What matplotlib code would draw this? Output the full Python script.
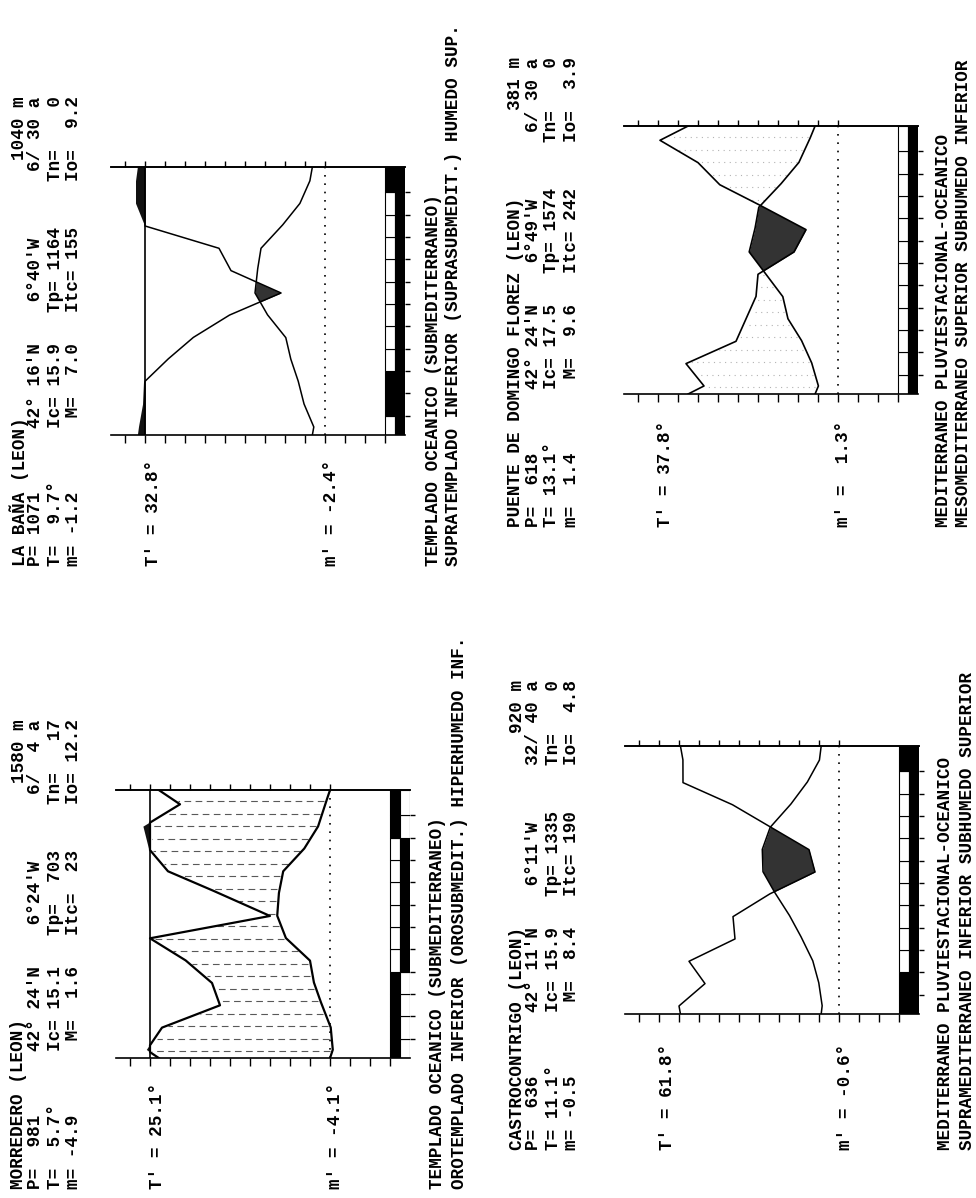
import numpy as np
import matplotlib.pyplot as plt

# monthly means, Jan..Dec (T in degC, P in mm)
bana_t = [2.8, 5.2, 6.6, 8.5, 9.8, 14.3, 17.5, 16.9, 16.0, 10.8, 6.3, 3.8]
bana_p = [120, 100, 95, 79, 66, 48, 22, 47, 53, 90, 135, 135]
bana_sure = [0, 1, 1, 0, 0, 0, 0, 0, 0, 0, 0, 1]
bana_prob = [1, 1, 1, 1, 1, 1, 1, 1, 1, 1, 1, 1]

morr_t = [-0.7, -0.2, 2.0, 4.0, 5.0, 11.0, 13.2, 12.8, 11.7, 6.5, 3.0, 1.2]
morr_p = [106, 84, 55, 59, 72, 90, 30, 55, 81, 95, 123, 75]
morr_sure = [1, 1, 1, 1, 0, 0, 0, 0, 0, 0, 1, 1]
morr_prob = [0, 0, 0, 0, 1, 1, 1, 1, 1, 1, 0, 0]

puen_t = [4.9, 6.5, 9.0, 12.5, 13.8, 18.0, 22.2, 20.8, 19.8, 14.5, 9.8, 7.2]
puen_p = [67, 76, 51, 46, 41, 40, 22, 16, 37, 59, 70, 89]
puen_sure = [0, 0, 0, 0, 0, 0, 0, 0, 0, 0, 0, 0]
puen_prob = [1, 1, 1, 1, 1, 1, 1, 1, 1, 1, 1, 1]

cast_t = [4.2, 5.0, 6.5, 9.2, 12.2, 15.8, 19.0, 19.2, 17.2, 12.2, 8.0, 4.9]
cast_p = [80, 67, 75, 52, 53, 35, 12, 15, 34, 53, 78, 78]
cast_sure = [1, 1, 0, 0, 0, 0, 0, 0, 0, 0, 0, 1]
cast_prob = [1, 1, 1, 1, 1, 1, 1, 1, 1, 1, 1, 1]

bana_head = [["LA BAÑA (LEON)", "", "", "1040 m"],
             ["P= 1071", "42° 16'N", " 6°40'W", "6/ 30 a"],
             ["T=  9.7°", "Ic= 15.9", "Tp= 1164", "Tn=    0"],
             ["m= -1.2", " M=  7.0", "Itc= 155", "Io=  9.2"]]
morr_head = [["MORREDERO (LEON)", "", "", "1580 m"],
             ["P=  981", "42° 24'N", " 6°24'W", "6/  4 a"],
             ["T=  5.7°", "Ic= 15.1", "Tp=  703", "Tn=   17"],
             ["m= -4.9", " M=  1.6", "Itc=  23", "Io= 12.2"]]
puen_head = [["PUENTE DE DOMINGO FLOREZ (LEON)", "", "", "381 m"],
             ["P=  618", "42° 24'N", " 6°49'W", "6/ 30 a"],
             ["T= 13.1°", "Ic= 17.5", "Tp= 1574", "Tn=    0"],
             ["m=  1.4", " M=  9.6", "Itc= 242", "Io=  3.9"]]
cast_head = [["CASTROCONTRIGO (LEON)", "", "", "920 m"],
             ["P=  636", "42° 11'N", " 6°11'W", "32/ 40 a"],
             ["T= 11.1°", "Ic= 15.9", "Tp= 1335", "Tn=    0"],
             ["m= -0.5", " M=  8.4", "Itc= 190", "Io=  4.8"]]

bana_ext = ["T' = 32.8°", "m' = -2.4°"]
morr_ext = ["T' = 25.1°", "m' = -4.1°"]
puen_ext = ["T' = 37.8°", "m' =  1.3°"]
cast_ext = ["T' = 61.8°", "m' = -0.6°"]

bana_cls = ["TEMPLADO OCEANICO (SUBMEDITERRANEO)",
            "SUPRATEMPLADO INFERIOR (SUPRASUBMEDIT.) HUMEDO SUP."]
morr_cls = ["TEMPLADO OCEANICO (SUBMEDITERRANEO)",
            "OROTEMPLADO INFERIOR (OROSUBMEDIT.) HIPERHUMEDO INF."]
puen_cls = ["MEDITERRANEO PLUVIESTACIONAL-OCEANICO",
            "MESOMEDITERRANEO SUPERIOR SUBHUMEDO INFERIOR"]
cast_cls = ["MEDITERRANEO PLUVIESTACIONAL-OCEANICO",
            "SUPRAMEDITERRANEO INFERIOR SUBHUMEDO SUPERIOR"]

CAP = 90  # mm, precipitation above this is drawn black at 1/10 scale
W, H = 976, 1198
PITCH = 10.58
FS = 12.7

fig = plt.figure(figsize=(W / 100, H / 100), dpi=100)
page = fig.add_axes([0, 0, 1, 1])
page.set_xlim(0, W)
page.set_ylim(H, 0)
page.axis('off')

mid = np.arange(12) + 0.36
yk = np.r_[0, mid, 12]
edges = np.r_[0, np.arange(1, 12) - 0.14, 12]
yy = np.linspace(0, 12, 1201)


def closed(v):
    v = np.asarray(v, float)
    end = v[-1] + (v[0] - v[-1]) * (12 - mid[-1])
    return np.r_[end, v, end]


def write(x, y, s, top=False):
    page.text(x, y, s, rotation=90, ha='center', va='top' if top else 'bottom',
              family='Liberation Mono', weight='bold', size=FS)


def diagram(t, p, sure, prob, head, ext, cls, zero_x, top_y, tx, ty, cls_x, lw, hatch):
    ax = fig.add_axes([(zero_x - 214) / W, 1 - (top_y + 268) / H, 294 / W, 268 / H])
    ax.patch.set_visible(False)
    ax.set_xlim(53.5, -20)
    ax.set_ylim(0, 12)

    p = np.asarray(p, float)
    pd = np.where(p > CAP, CAP + (p - CAP) / 10, p) / 2
    tk, pk = closed(t), closed(pd)
    tf, pf = np.interp(yy, yk, tk), np.interp(yy, yk, pk)
    cap = CAP / 2

    # humid period: broken horizontal strokes between the curves
    if hatch:
        color, dash = hatch
        yh = np.arange(0.3, 12, 0.56)
        th = np.interp(yh, yk, tk)
        ph = np.minimum(np.interp(yh, yk, pk), cap)
        wet = ph > th + 0.8
        ax.hlines(yh[wet], th[wet] + 0.6, ph[wet] - 0.6, colors=color,
                  linestyles=dash, lw=0.8)

    ax.fill_betweenx(yy, tf, pf, where=tf > pf, color='#333333', lw=0)
    if (pf > cap).any():
        ax.fill_betweenx(yy, cap, pf, where=pf > cap, color='#111111', lw=0)
        ax.axvline(cap, color='k', lw=1.2)
    ax.plot(tf, yy, color='k', lw=lw)
    ax.plot(np.minimum(pf, cap), yy, color='k', lw=lw)
    ax.axvline(0, color='k', lw=1.2, ls=(0, (1, 4)))

    # frost bar
    h = np.diff(edges)
    ax.barh(edges[:-1], 2.5, height=h, left=-17.5, align='edge',
            color=['k' if s else 'w' for s in sure], edgecolor='k', lw=0.8)
    ax.barh(edges[:-1], 2.5, height=h, left=-20, align='edge',
            color=['k' if s else 'w' for s in prob], edgecolor='k', lw=0.8)
    ax.hlines(edges[1:-1], -20, -21.3, color='k', lw=1, clip_on=False)

    for s in ['left', 'right']:
        ax.spines[s].set_visible(False)
    ax.spines['bottom'].set_linewidth(1.2)
    ax.spines['top'].set_linewidth(1.2)
    ax.set_yticks([])
    ax.set_xticks(np.arange(-15, 51, 5))
    ax.tick_params(axis='x', length=6, width=1, labelbottom=False)
    sec = ax.secondary_xaxis('top')
    sec.set_xticks(np.arange(0, 51, 5))
    sec.tick_params(length=4, width=1, labeltop=False)
    sec.spines['top'].set_linewidth(1.2)

    # header block
    for i, row in enumerate(head):
        x = tx + [0, 17, 36, 55][i]
        write(x, ty, row[0])
        if row[1]:
            write(x, ty - 13 * PITCH, row[1])
        if row[2]:
            write(x, ty - 24 * PITCH, row[2])
        write(x, ty - 44.4 * PITCH, row[3], top=True)
    write(zero_x - 172, ty, ext[0])
    write(zero_x + 6, ty, ext[1])
    write(cls_x[0], ty, cls[0])
    write(cls_x[1], ty, cls[1])


diagram(bana_t, bana_p, bana_sure, bana_prob, bana_head, bana_ext, bana_cls,
        325, 167, 19, 566, (433, 453), 1.1, None)
diagram(morr_t, morr_p, morr_sure, morr_prob, morr_head, morr_ext, morr_cls,
        330, 790, 19, 1189, (437, 459), 1.6, ('0.35', (0, (6, 4))))
diagram(puen_t, puen_p, puen_sure, puen_prob, puen_head, puen_ext, puen_cls,
        838, 126, 516, 527, (944, 964), 1.2, ('0.7', (0, (1, 4))))
diagram(cast_t, cast_p, cast_sure, cast_prob, cast_head, cast_ext, cast_cls,
        839, 746, 517, 1150, (946, 967), 1.1, None)

fig.savefig('out.png', dpi=100)
